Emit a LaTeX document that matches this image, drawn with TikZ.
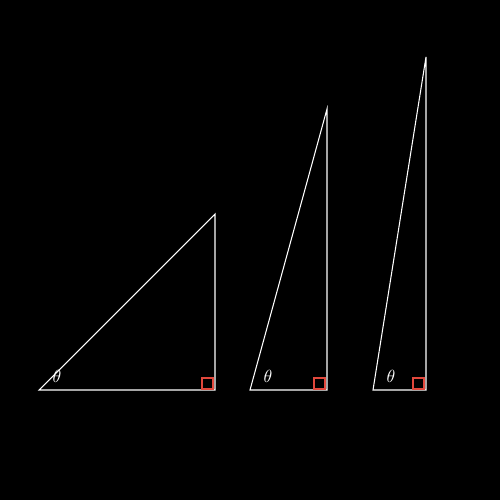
\documentclass[tikz,border=0pt]{standalone}
\usepackage{xcolor}
\definecolor{rightred}{RGB}{225,72,60}
\tikzset{
  side/.style={white, line width=0.6pt},
  rightmark/.style={rightred, line width=0.6pt},
  anglelabel/.style={white, inner sep=0pt}
}
\begin{document}
\begin{tikzpicture}[x=0.02cm, y=-0.02cm]
    % background
    \fill[black] (0,0) rectangle (500,500);
    \useasboundingbox (0,0) rectangle (500,500);

    % wide triangle
    \coordinate (A1) at (39,390);
    \coordinate (B1) at (215,390);
    \coordinate (C1) at (215,214);
    \draw[side] (A1) -- (B1) -- (C1) -- cycle;
    \draw[rightmark] (202,378) rectangle (213,389);
    \node[anglelabel] (t1) at (57,376) {$\theta$};

    % middle triangle
    \coordinate (A2) at (250,390);
    \coordinate (B2) at (327,390);
    \coordinate (C2) at (327,109);
    \draw[side] (A2) -- (B2) -- (C2) -- cycle;
    \draw[rightmark] (314,378) rectangle (325,389);
    \node[anglelabel] (t2) at (268,376) {$\theta$};

    % narrow triangle
    \coordinate (A3) at (373,390);
    \coordinate (B3) at (426,390);
    \coordinate (C3) at (426,57);
    \draw[side] (A3) -- (B3) -- (C3) -- cycle;
    \draw[rightmark] (413,378) rectangle (424,389);
    \node[anglelabel] (t3) at (391,376) {$\theta$};

\end{tikzpicture}
\end{document}
